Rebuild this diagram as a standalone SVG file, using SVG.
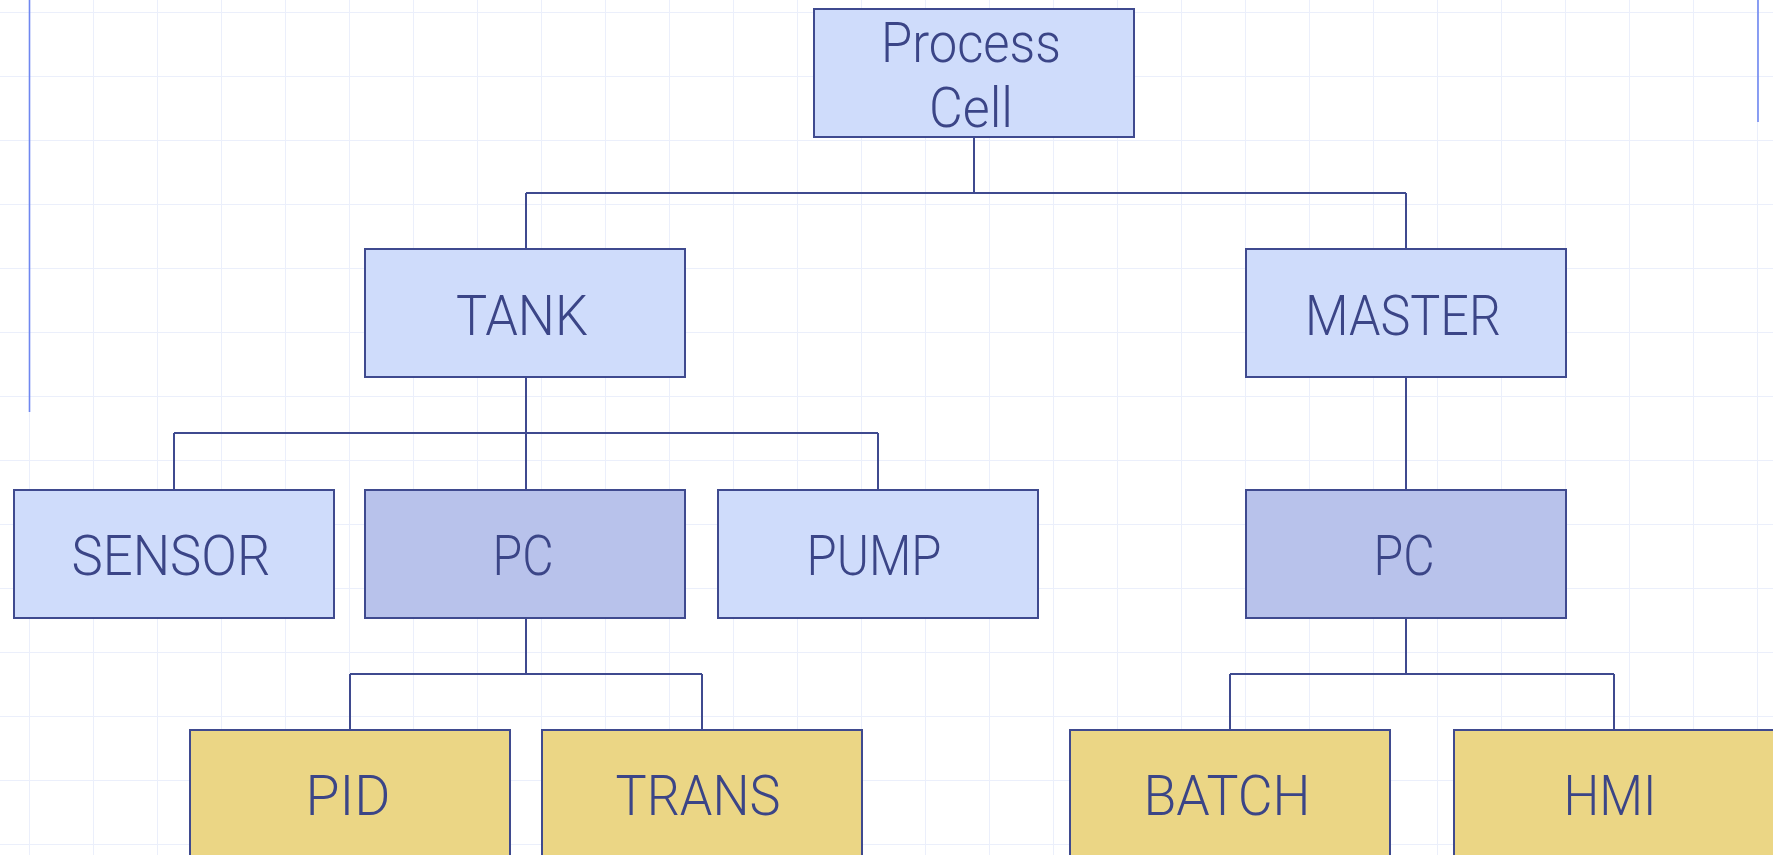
<svg xmlns="http://www.w3.org/2000/svg" width="1773" height="855" viewBox="0 0 1773 855">
<defs>
<pattern id="grid" x="29" y="12" width="64" height="64" patternUnits="userSpaceOnUse">
<path d="M0 0 H64 M0 0 V64" fill="none" stroke="#ebeffb" stroke-width="2"/>
</pattern>
</defs>
<style>
.box{stroke:#3f4a8f;stroke-width:2}
.l1{fill:#cfdcfb}
.l2{fill:#b8c2eb}
.l3{fill:#ebd685}
.t{font-family:Roboto,"Liberation Sans",Arial,sans-serif;font-weight:300;font-size:55px;fill:#3b4587;text-anchor:middle}
.c{fill:none;stroke:#3f4a8f;stroke-width:2}
.edge{stroke:#6f87f0;stroke-width:1.6}
</style>
<rect x="0" y="0" width="1773" height="855" fill="#ffffff"/>
<rect x="0" y="0" width="1773" height="855" fill="url(#grid)"/>
<line class="edge" x1="29.5" y1="0" x2="29.5" y2="412"/>
<line class="edge" x1="1758" y1="0" x2="1758" y2="122"/>
<g id="connectors">
<path class="c" d="M974 137 V193 M526 193 H1406 M526 193 V249 M1406 193 V249"/>
<path class="c" d="M526 377 V490 M174 433 H878 M174 433 V490 M878 433 V490"/>
<path class="c" d="M1406 377 V490"/>
<path class="c" d="M526 618 V674 M350 674 H702 M350 674 V730 M702 674 V730"/>
<path class="c" d="M1406 618 V674 M1230 674 H1614 M1230 674 V730 M1614 674 V730"/>
</g>
<g id="process-cell">
<rect class="box l1" x="814" y="9" width="320" height="128"/>
<text class="t" x="971" y="62" textLength="180" lengthAdjust="spacingAndGlyphs">Process</text>
<text class="t" x="971" y="127" textLength="84" lengthAdjust="spacingAndGlyphs">Cell</text>
</g>
<g id="tank">
<rect class="box l1" x="365" y="249" width="320" height="128"/>
<text class="t" x="522" y="335" textLength="132" lengthAdjust="spacingAndGlyphs">TANK</text>
</g>
<g id="master">
<rect class="box l1" x="1246" y="249" width="320" height="128"/>
<text class="t" x="1403" y="335" textLength="196" lengthAdjust="spacingAndGlyphs">MASTER</text>
</g>
<g id="sensor">
<rect class="box l1" x="14" y="490" width="320" height="128"/>
<text class="t" x="171" y="575" textLength="199" lengthAdjust="spacingAndGlyphs">SENSOR</text>
</g>
<g id="pc-tank">
<rect class="box l2" x="365" y="490" width="320" height="128"/>
<text class="t" x="523" y="575" textLength="61" lengthAdjust="spacingAndGlyphs">PC</text>
</g>
<g id="pump">
<rect class="box l1" x="718" y="490" width="320" height="128"/>
<text class="t" x="874" y="575" textLength="135" lengthAdjust="spacingAndGlyphs">PUMP</text>
</g>
<g id="pc-master">
<rect class="box l2" x="1246" y="490" width="320" height="128"/>
<text class="t" x="1404" y="575" textLength="61" lengthAdjust="spacingAndGlyphs">PC</text>
</g>
<g id="pid">
<rect class="box l3" x="190" y="730" width="320" height="128"/>
<text class="t" x="348" y="815" textLength="85" lengthAdjust="spacingAndGlyphs">PID</text>
</g>
<g id="trans">
<rect class="box l3" x="542" y="730" width="320" height="128"/>
<text class="t" x="698" y="815" textLength="165" lengthAdjust="spacingAndGlyphs">TRANS</text>
</g>
<g id="batch">
<rect class="box l3" x="1070" y="730" width="320" height="128"/>
<text class="t" x="1227" y="815" textLength="167" lengthAdjust="spacingAndGlyphs">BATCH</text>
</g>
<g id="hmi">
<rect class="box l3" x="1454" y="730" width="320" height="128"/>
<text class="t" x="1610" y="815" textLength="93" lengthAdjust="spacingAndGlyphs">HMI</text>
</g>
</svg>
